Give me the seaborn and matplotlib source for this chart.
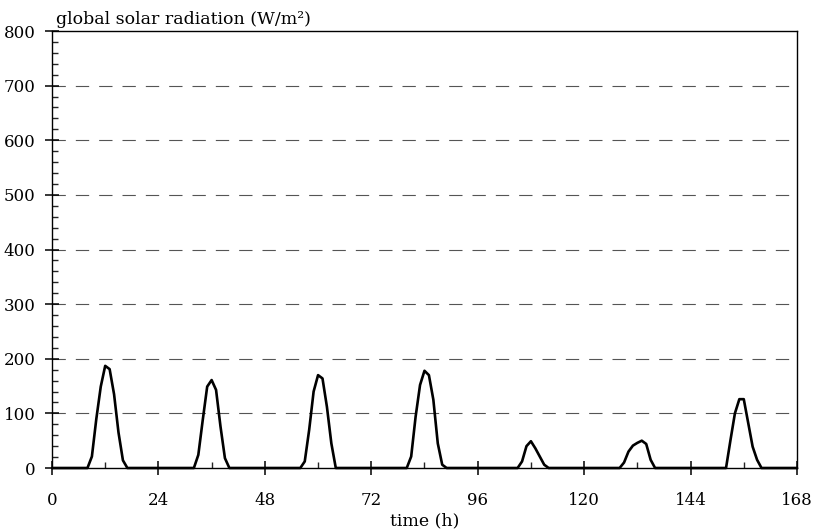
import numpy as np
import pandas as pd
import matplotlib
matplotlib.use('Agg')
import matplotlib.pyplot as plt
from matplotlib.ticker import MultipleLocator
import seaborn as sns

# ─── Data: hourly global solar radiation over one week ───────────────────────
hours = np.arange(0, 169)

# (first hour of the day's curve, hourly values in W/m²)
day1_start, day1 = 8,   [0, 21, 90, 149, 187, 181, 135, 65, 14, 0]
day2_start, day2 = 32,  [0, 24, 88, 149, 161, 143, 76, 18, 0]
day3_start, day3 = 56,  [0, 12, 70, 140, 170, 164, 112, 45, 0]
day4_start, day4 = 80,  [0, 21, 94, 152, 178, 170, 125, 45, 6, 0]
day5_start, day5 = 105, [0, 12, 40, 49, 36, 21, 6, 0]
day6_start, day6 = 128, [0, 10, 30, 41, 46, 50, 44, 15, 0]
day7_start, day7 = 152, [0, 51, 100, 126, 126, 82, 39, 15, 0]

radiation = np.zeros(len(hours))
for start, vals in [(day1_start, day1), (day2_start, day2), (day3_start, day3),
                    (day4_start, day4), (day5_start, day5), (day6_start, day6),
                    (day7_start, day7)]:
    radiation[start:start + len(vals)] = vals

df = pd.DataFrame({'time': hours, 'radiation': radiation})

# ─── Plot ─────────────────────────────────────────────────────────────────────
sns.set_style('white')
plt.rcParams['font.family'] = ['DejaVu Serif']
plt.rcParams['text.color'] = 'black'
plt.rcParams['axes.labelcolor'] = 'black'

fig = plt.figure(figsize=(8.16, 5.32), dpi=100)
ax = fig.add_axes([0.0637, 0.1203, 0.913, 0.8214])

for y in range(100, 800, 100):
    ax.axhline(y, color='#555555', lw=0.8, dashes=(12, 9), zorder=0)

sns.lineplot(data=df, x='time', y='radiation', color='black', lw=1.9, ax=ax,
             clip_on=False, zorder=3)

ax.set_xlim(0, 168)
ax.set_ylim(0, 800)
ax.xaxis.set_major_locator(MultipleLocator(24))
ax.xaxis.set_minor_locator(MultipleLocator(12))
ax.yaxis.set_major_locator(MultipleLocator(100))
ax.yaxis.set_minor_locator(MultipleLocator(20))
ax.tick_params(which='both', bottom=True, left=True, top=False, right=False)
ax.tick_params(which='major', direction='inout', length=10, width=1.1,
               labelsize=12, colors='black')
ax.tick_params(which='minor', direction='in', length=4, width=1.0)
ax.tick_params(axis='x', which='major', pad=12)
ax.tick_params(axis='y', which='major', pad=7)

for s in ax.spines.values():
    s.set_color('black')
    s.set_linewidth(1.0)

ax.set_xlabel('time (h)', fontsize=12.5, labelpad=3, color='black')
ax.set_ylabel('')
ax.text(0.006, 1.008, 'global solar radiation (W/m²)', transform=ax.transAxes,
        ha='left', va='bottom', fontsize=12.5, color='black')

fig.savefig('out.png', dpi=100)
plt.close(fig)
